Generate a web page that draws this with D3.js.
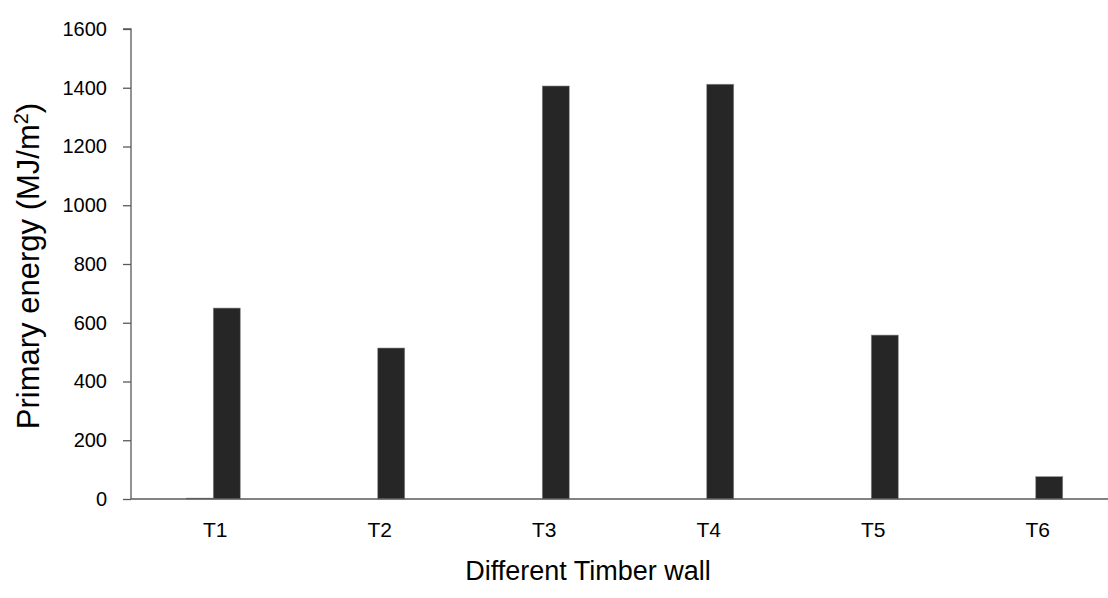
<!DOCTYPE html>
<html><head><meta charset="utf-8">
<script src="https://cdn.jsdelivr.net/npm/d3@7"></script>
<style>body{margin:0;background:#fff}svg{display:block}text{font-family:"Liberation Sans",Arial,sans-serif;fill:#000}</style>
</head><body><svg id="c" width="1108" height="598"></svg>
<script>
const categories = ["T1","T2","T3","T4","T5","T6"];
const series1 = [3, 0, 0, 0, 0, 0];
const series2 = [650, 514, 1406, 1412, 558, 76];
const yTicks = [0,200,400,600,800,1000,1200,1400,1600];
const xTitle = "Different Timber wall";

const svg = d3.select("#c");
const x0 = 131, step = 164.5, yTop = 29, yBot = 499;
const x = d3.scaleBand().domain(categories).range([x0, x0 + step*categories.length]).padding(0);
const barW = 27;
const p = (step/barW - 2)/2;
const xi = d3.scaleBand().domain(["s1","s2"]).range([0, x.bandwidth()]).paddingInner(0).paddingOuter(p);
const y = d3.scaleLinear().domain([0,1600]).range([yBot, yTop]);

const data = categories.map((c,i)=>({c, s1:series1[i], s2:series2[i]}));

const g = svg.append("g");
g.selectAll("g.cat").data(data).join("g").attr("class","cat")
  .attr("transform", d=>`translate(${x(d.c)},0)`)
  .selectAll("rect").data(d=>[{k:"s1",v:d.s1},{k:"s2",v:d.s2}].filter(e=>e.v>0)).join("rect")
  .attr("x", e=>xi(e.k)).attr("width", xi.bandwidth())
  .attr("y", e=>y(e.v)).attr("height", e=>yBot - y(e.v))
  .attr("fill","#262626").attr("stroke","#8c8c8c").attr("stroke-width",0.6);

// y axis
const ya = svg.append("g").attr("transform",`translate(${x0},0)`)
  .call(d3.axisLeft(y).tickValues(yTicks).tickSize(8).tickPadding(16).tickFormat(d3.format("d")));
ya.select(".domain").attr("stroke","#595959").attr("stroke-width",1.3).attr("d",`M-8,${yTop}H0V${yBot}`);
ya.selectAll(".tick line").attr("stroke","#595959").attr("stroke-width",1.3);
ya.selectAll(".tick text").style("font-size","20px").attr("fill","#000");

// x axis
const xa = svg.append("g").attr("transform",`translate(0,${yBot})`)
  .call(d3.axisBottom(x).tickSize(0).tickPadding(23));
xa.select(".domain").attr("stroke","#595959").attr("stroke-width",1.6).attr("d",`M${x0},0H1108`);
xa.selectAll(".tick text").style("font-size","21px").attr("fill","#000").attr("dx","2");

// titles
svg.append("text").attr("x",588).attr("y",580).attr("text-anchor","middle")
  .style("font-size","27px").text(xTitle);
const yt = svg.append("text").attr("transform","translate(39,266) rotate(-90)").attr("text-anchor","middle").style("font-size","31px");
yt.append("tspan").text("Primary energy (MJ/m");
yt.append("tspan").attr("dy","-11").style("font-size","20px").text("2");
yt.append("tspan").attr("dy","11").text(")");
</script></body></html>
